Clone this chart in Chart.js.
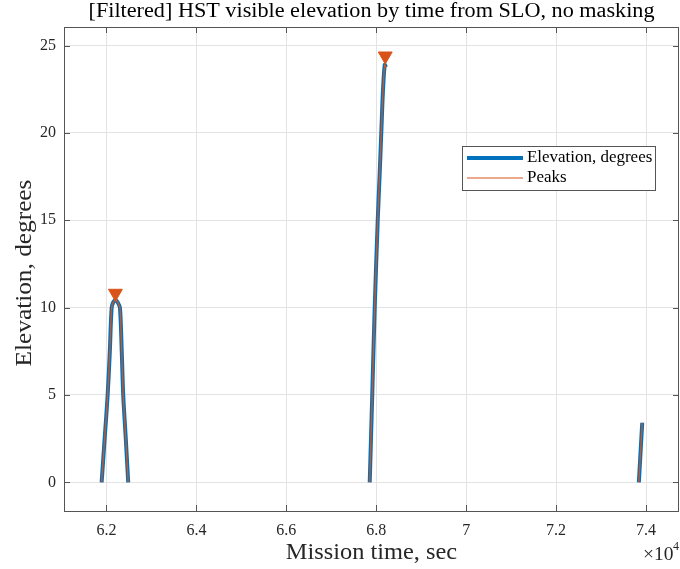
<!DOCTYPE html>
<html>
<head>
<meta charset="utf-8">
<script src="https://cdn.jsdelivr.net/npm/chart.js@4.4.1/dist/chart.umd.min.js"></script>
<style>
  html, body { margin: 0; padding: 0; background: #fff; }
  canvas { display: block; }
</style>
</head>
<body>
<canvas id="elev" width="680" height="569"></canvas>
<script>
// Visible passes (mission time in sec, elevation in deg)
const pass1Time = [61893, 61960, 62027, 62075, 62116, 62155, 62204, 62250, 62300, 62340, 62373, 62430, 62484];
const pass1Elev = [0, 2.5, 5, 7.5, 10, 10.32, 10.44, 10.3, 10, 7.5, 5, 2.5, 0];
const pass2Time = [67855, 67911, 67966, 68033, 68077, 68115, 68151, 68189, 68215];
const pass2Elev = [0, 5, 10, 15, 17.7, 20.2, 22.5, 23.9, 23.75];
const pass3Time = [73840, 73915];
const pass3Elev = [0, 3.41];

// Peak markers
const peakTime = [62200, 68200];
const peakElev = [10.82, 24.4];

// Axes
const xTickValues = [62000, 64000, 66000, 68000, 70000, 72000, 74000];
const xTickLabels = ['6.2', '6.4', '6.6', '6.8', '7', '7.2', '7.4'];
const yTickValues = [0, 5, 10, 15, 20, 25];
const yTickLabels = ['0', '5', '10', '15', '20', '25'];

const SERIF = "'Liberation Serif', 'DejaVu Serif', serif";
const BLUE = '#0072BD';
const ORANGE = '#D95319';

// join passes with gaps so the line breaks between them
function joinPasses(passes) {
  const pts = [];
  passes.forEach(([t, e], k) => {
    if (k > 0) pts.push({ x: t[0], y: null });
    t.forEach((v, i) => pts.push({ x: v, y: e[i] }));
  });
  return pts;
}
const elevPoints = joinPasses([[pass1Time, pass1Elev], [pass2Time, pass2Elev], [pass3Time, pass3Elev]]);

// text a bit wider than Times, closer to the LaTeX look
function wideText(ctx, str, x, y, sx, rot) {
  ctx.save();
  ctx.translate(x, y);
  if (rot) ctx.rotate(rot);
  ctx.scale(sx, 1);
  ctx.fillText(str, 0, 0);
  ctx.restore();
}

const frame = {
  id: 'frame',
  afterDraw(chart) {
    const { ctx, chartArea: a, scales } = chart;
    ctx.save();

    // box + inward ticks
    ctx.strokeStyle = '#555';
    ctx.lineWidth = 1;
    ctx.strokeRect(a.left + 0.5, a.top + 0.5, a.right - a.left - 1, a.bottom - a.top);
    ctx.beginPath();
    xTickValues.forEach(v => {
      const px = Math.round(scales.x.getPixelForValue(v)) + 0.5;
      ctx.moveTo(px, a.bottom); ctx.lineTo(px, a.bottom - 6);
      ctx.moveTo(px, a.top); ctx.lineTo(px, a.top + 6);
    });
    yTickValues.forEach(v => {
      const py = Math.round(scales.y.getPixelForValue(v)) + 0.5;
      ctx.moveTo(a.left, py); ctx.lineTo(a.left + 6, py);
      ctx.moveTo(a.right, py); ctx.lineTo(a.right - 6, py);
    });
    ctx.stroke();

    // title + axis titles
    const cx = (a.left + a.right) / 2;
    ctx.fillStyle = '#000';
    ctx.textAlign = 'center';
    ctx.textBaseline = 'middle';
    ctx.font = '20px ' + SERIF;
    wideText(ctx, '[Filtered] HST visible elevation by time from SLO, no masking', cx, 12, 1.11);
    ctx.fillStyle = '#262626';
    ctx.font = '23px ' + SERIF;
    wideText(ctx, 'Mission time, sec', cx, 553, 1.06);
    wideText(ctx, 'Elevation, degrees', 25, 273, 1.1, -Math.PI / 2);

    // exponent
    ctx.textAlign = 'left';
    ctx.font = '18px ' + SERIF;
    wideText(ctx, '\u00d710', 643, 555, 1.08);
    ctx.font = '12px ' + SERIF;
    ctx.fillText('4', 673, 547);

    // legend
    const lx = 462, ly = 146, lw = 193, lh = 44;
    ctx.fillStyle = '#fff';
    ctx.fillRect(lx, ly, lw, lh);
    ctx.strokeStyle = '#555';
    ctx.lineWidth = 1;
    ctx.strokeRect(lx + 0.5, ly + 0.5, lw, lh);
    ctx.lineWidth = 4;
    ctx.strokeStyle = BLUE;
    ctx.beginPath(); ctx.moveTo(467, 158); ctx.lineTo(523, 158); ctx.stroke();
    ctx.lineWidth = 1.2;
    ctx.strokeStyle = ORANGE;
    ctx.beginPath(); ctx.moveTo(467, 178); ctx.lineTo(523, 178); ctx.stroke();
    ctx.fillStyle = '#000';
    ctx.font = '16px ' + SERIF;
    wideText(ctx, 'Elevation, degrees', 527, 158, 1.06);
    wideText(ctx, 'Peaks', 527, 178, 1.06);

    ctx.restore();
  }
};

new Chart(document.getElementById('elev'), {
  type: 'line',
  data: {
    datasets: [
      {
        label: 'Elevation, degrees',
        data: elevPoints,
        borderColor: BLUE,
        borderWidth: 4,
        pointRadius: 0,
        tension: 0.3,
        order: 3
      },
      {
        label: 'Peaks',
        data: elevPoints,
        borderColor: ORANGE,
        borderWidth: 1.3,
        pointRadius: 0,
        tension: 0.3,
        order: 2
      },
      {
        label: 'peak markers',
        data: peakTime.map((t, i) => ({ x: t, y: peakElev[i] })),
        showLine: false,
        pointStyle: 'triangle',
        rotation: 180,
        pointRadius: 8,
        backgroundColor: ORANGE,
        borderColor: ORANGE,
        borderWidth: 1,
        order: 1
      }
    ]
  },
  options: {
    responsive: false,
    animation: false,
    devicePixelRatio: 1,
    layout: { autoPadding: false, padding: { top: 27, right: 1, left: 0, bottom: 0 } },
    plugins: { legend: { display: false }, tooltip: { enabled: false } },
    scales: {
      x: {
        type: 'linear',
        min: 61056,
        max: 74733,
        afterFit: s => { s.height = 58; s.paddingLeft = 0; s.paddingRight = 0; },
        afterBuildTicks: s => { s.ticks = xTickValues.map(v => ({ value: v })); },
        grid: { color: '#e3e3e3', drawTicks: false },
        border: { display: false },
        ticks: {
          padding: 10,
          color: '#262626',
          font: { family: SERIF, size: 16 },
          callback: (v, i) => xTickLabels[i]
        }
      },
      y: {
        min: -1.64,
        max: 26.06,
        afterFit: s => { s.width = 64; s.paddingTop = 0; s.paddingBottom = 0; },
        afterBuildTicks: s => { s.ticks = yTickValues.map(v => ({ value: v })); },
        grid: { color: '#e3e3e3', drawTicks: false },
        border: { display: false },
        ticks: {
          padding: 8,
          color: '#262626',
          font: { family: SERIF, size: 16 },
          callback: (v, i) => yTickLabels[i]
        }
      }
    }
  },
  plugins: [frame]
});
</script>
</body>
</html>
